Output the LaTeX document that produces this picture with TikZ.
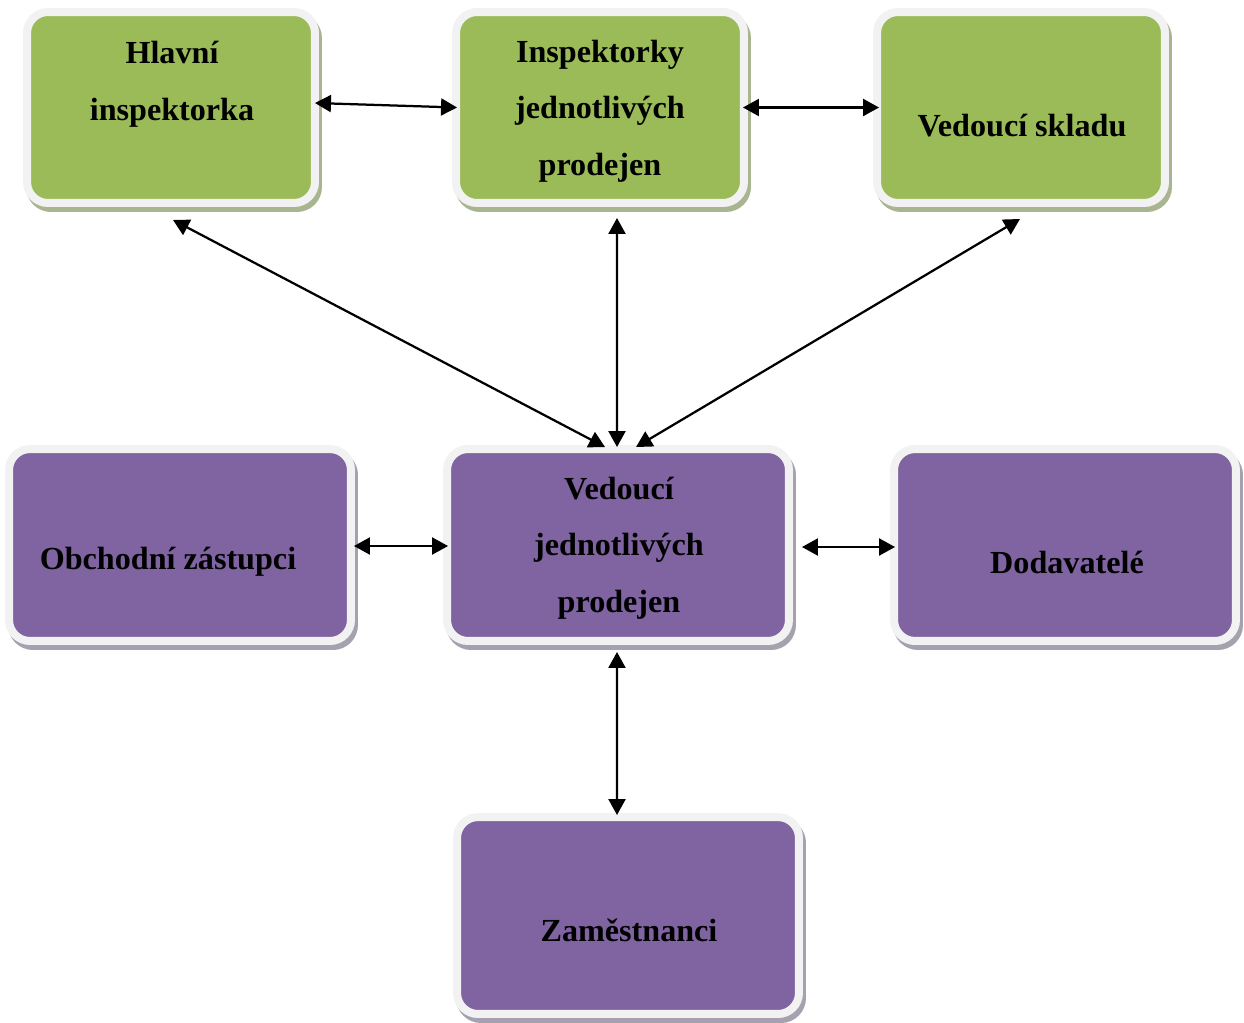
\documentclass[tikz,border=0pt]{standalone}
\usepackage{fontspec}
\setmainfont{Liberation Serif}
\usepackage{tikz}
\usetikzlibrary{arrows.meta}
\usepackage{xcolor}
\definecolor{boxgreen}{HTML}{9BBB59}
\definecolor{boxpurple}{HTML}{8064A2}
\definecolor{boxrim}{HTML}{F2F2F2}
\definecolor{gshadow}{HTML}{A9B591}
\definecolor{pshadow}{HTML}{A6A1AE}

\begin{document}
\begin{tikzpicture}[x=0.02cm,y=-0.02cm]
				\tikzstyle{gbox} = [rectangle,rounded corners=0.42cm,fill=boxgreen,draw=boxrim,line width=0.16cm,minimum width=5.76cm,minimum height=3.82cm,preaction={draw=gshadow,fill=gshadow,line width=0.16cm,transform canvas={shift={(0.06cm,-0.1cm)}}}]
				\tikzstyle{pbox} = [rectangle,rounded corners=0.42cm,fill=boxpurple,draw=boxrim,line width=0.16cm,minimum width=6.84cm,minimum height=3.84cm,preaction={draw=pshadow,fill=pshadow,line width=0.16cm,transform canvas={shift={(0.06cm,-0.1cm)}}}]
				\tikzstyle{txt} = [font=\bfseries\fontsize{18.3}{32.2}\selectfont,align=center,inner sep=0pt]
				\tikzstyle{edge} = [{Triangle[length=0.32cm,width=0.34cm]}-{Triangle[length=0.32cm,width=0.34cm]},line width=0.045cm]
				\useasboundingbox (0,0) rectangle (1244,1022);
				% boxes
				\node[gbox] (hlavni) at (171,107.5) {};
				\node[gbox] (insp) at (600,107.5) {};
				\node[gbox] (sklad) at (1021,107.5) {};
				\node[pbox] (obch) at (180,545) {};
				\node[pbox] (ved) at (618,545) {};
				\node[pbox] (dod) at (1065,545) {};
				\node[pbox,minimum height=3.94cm] (zam) at (628,915.5) {};
				% texts
				\node[txt] (hlavniT) at (172,84) {Hlavní\\inspektorka};
				\node[txt] (inspT) at (600,111) {Inspektorky\\jednotlivých\\prodejen};
				\node[txt] (skladT) at (1022,126) {Vedoucí skladu};
				\node[txt] (obchT) at (168,562) {Obchodní zástupci};
				\node[txt] (vedT) at (619,548) {Vedoucí\\jednotlivých\\prodejen};
				\node[txt] (dodT) at (1067,562) {Dodavatelé};
				\node[txt] (zamT) at (629,930) {Zaměstnanci};
				% arrows
				\draw[edge] ([xshift=-0.08cm,yshift=0.09cm]hlavni.east)--([xshift=0.1cm]insp.west);
				\draw[edge] ([xshift=-0.1cm]insp.east)--([xshift=0.12cm]sklad.west);
				\draw[edge] ([xshift=0.04cm,yshift=-0.26cm]hlavni.south)--([xshift=-0.26cm,yshift=-0.04cm]ved.north);
				\draw[edge] ([xshift=0.34cm,yshift=-0.22cm]insp.south)--([xshift=-0.02cm,yshift=-0.04cm]ved.north);
				\draw[edge] ([xshift=-0.02cm,yshift=-0.24cm]sklad.south)--([xshift=0.36cm,yshift=-0.04cm]ved.north);
				\draw[edge] ([xshift=-0.02cm,yshift=-0.02cm]obch.east)--([xshift=0.1cm,yshift=-0.02cm]ved.west);
				\draw[edge] ([xshift=0.18cm,yshift=-0.04cm]ved.east)--([xshift=0.1cm,yshift=-0.04cm]dod.west);
				\draw[edge] ([xshift=-0.02cm,yshift=-0.14cm]ved.south)--([xshift=-0.22cm,yshift=-0.04cm]zam.north);
\end{tikzpicture}
\end{document}
